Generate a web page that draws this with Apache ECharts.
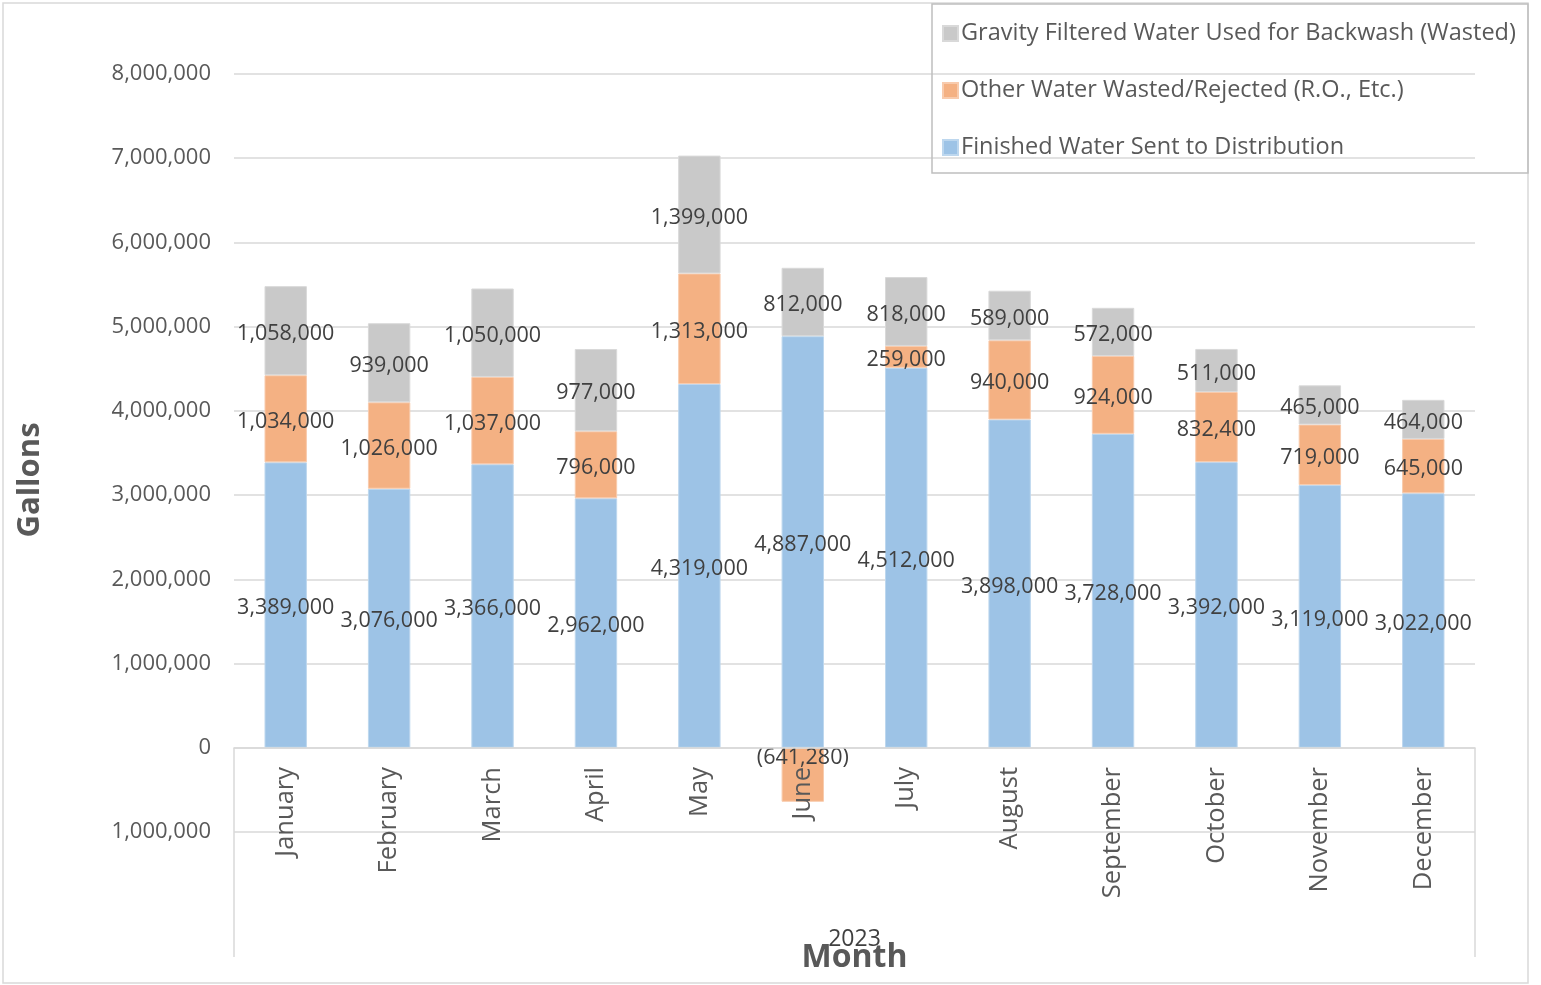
<!DOCTYPE html>
<html>
<head>
<meta charset="utf-8">
<script src="https://cdn.jsdelivr.net/npm/echarts@6/dist/echarts.min.js"></script>
<style>
  html, body { margin: 0; padding: 0; background: #fff; }
  #chart { width: 1541px; height: 985px; }
</style>
</head>
<body>
<div id="chart"></div>
<script>
// Monthly water production, 2023 (gallons)
const months = ['January', 'February', 'March', 'April', 'May', 'June',
                'July', 'August', 'September', 'October', 'November', 'December'];
const finishedWater = [3389000, 3076000, 3366000, 2962000, 4319000, 4887000,
                       4512000, 3898000, 3728000, 3392000, 3119000, 3022000];
const otherWasted = [1034000, 1026000, 1037000, 796000, 1313000, -641280,
                     259000, 940000, 924000, 832400, 719000, 645000];
const backwashWasted = [1058000, 939000, 1050000, 977000, 1399000, 812000,
                        818000, 589000, 572000, 511000, 465000, 464000];
const yearLabel = '2023';
const seriesNames = ['Gravity Filtered Water Used for Backwash (Wasted)',
                     'Other Water Wasted/Rejected (R.O., Etc.)',
                     'Finished Water Sent to Distribution'];

const FONT = '"Open Sans", "Liberation Sans", sans-serif';
const GRID = { left: 234, right: 66, top: 74, bottom: 153 };

const fmt = v => {
  const s = Math.abs(v).toLocaleString('en-US');
  return v < 0 ? '(' + s + ')' : s;
};

const labelStyle = {
  show: true,
  position: 'inside',
  offset: [0, 3],
  color: '#404040',
  fontFamily: FONT,
  fontSize: 21.5,
  formatter: p => fmt(p.value)
};

// Negative values carry their label up against the zero line
const otherWastedData = otherWasted.map(v =>
  v < 0 ? { value: v, label: { position: 'insideTop', distance: -4 } } : v);

const chart = echarts.init(document.getElementById('chart'), null, { renderer: 'canvas' });

const option = {
  animation: false,
  backgroundColor: '#fff',
  textStyle: { fontFamily: FONT },
  grid: Object.assign({ outerBoundsMode: 'none', containLabel: false }, GRID),
  legend: {
    orient: 'vertical',
    left: 942,
    top: 21,
    padding: 0,
    itemGap: 32,
    itemWidth: 15,
    itemHeight: 15,
    icon: 'rect',
    data: seriesNames,
    textStyle: { color: '#595959', fontSize: 23.5, fontFamily: FONT, padding: [0, 0, 0, -2], lineHeight: 25 }
  },
  xAxis: {
    type: 'category',
    data: months,
    z: 5,
    axisLine: { onZero: true, lineStyle: { color: '#d9d9d9', width: 1.5 } },
    axisTick: { show: false },
    axisLabel: { rotate: 90, color: '#595959', fontSize: 25.5, fontFamily: FONT, margin: -65 }
  },
  yAxis: {
    type: 'value',
    min: -1000000,
    max: 8000000,
    interval: 1000000,
    axisLine: { show: false },
    axisTick: { show: false },
    splitLine: { lineStyle: { color: '#d9d9d9', width: 1.5 } },
    axisLabel: {
      color: '#595959', fontSize: 22, fontFamily: FONT, margin: 23, padding: [4, 0, 0, 0],
      formatter: v => Math.abs(v).toLocaleString('en-US')
    }
  },
  series: [
    {
      name: seriesNames[2], type: 'bar', stack: 'total', data: finishedWater,
      barWidth: '41%',
      itemStyle: { color: '#9dc3e6', borderColor: '#bdd7ee', borderWidth: 1 },
      label: labelStyle
    },
    {
      name: seriesNames[1], type: 'bar', stack: 'total', data: otherWastedData,
      itemStyle: { color: '#f4b183', borderColor: '#f8cbad', borderWidth: 1 },
      label: labelStyle
    },
    {
      name: seriesNames[0], type: 'bar', stack: 'total', data: backwashWasted,
      itemStyle: { color: '#c9c9c9', borderColor: '#d9d9d9', borderWidth: 1 },
      label: labelStyle
    }
  ]
};

chart.setOption(option);

// Frame, legend box, titles and the side rules of the category band below zero
const y0 = chart.convertToPixel({ yAxisIndex: 0 }, 0);
const xL = GRID.left, xR = 1541 - GRID.right, yBand = 957;
const line = (x1, y1, x2, y2) => ({
  type: 'line', silent: true, shape: { x1, y1, x2, y2 },
  style: { stroke: '#d9d9d9', lineWidth: 1.5 }
});
chart.setOption({
  graphic: [
    { type: 'rect', silent: true, shape: { x: 3, y: 3, width: 1525, height: 980 },
      style: { fill: null, stroke: '#d9d9d9', lineWidth: 1.5 } },
    { type: 'rect', silent: true, z: 10, shape: { x: 932, y: 4, width: 596, height: 169 },
      style: { fill: null, stroke: '#bfbfbf', lineWidth: 1.5 } },
    line(xL, y0, xL, yBand),
    line(xR, y0, xR, yBand),
    { type: 'text', silent: true, x: 30, y: 480, rotation: Math.PI / 2,
      style: { text: 'Gallons', fill: '#595959', font: 'bold 31px ' + FONT,
               textAlign: 'center', textVerticalAlign: 'middle' } },
    { type: 'text', silent: true, x: (xL + xR) / 2, y: 939,
      style: { text: yearLabel, fill: '#404040', font: '23px ' + FONT,
               textAlign: 'center', textVerticalAlign: 'middle' } },
    { type: 'text', silent: true, x: (xL + xR) / 2, y: 958,
      style: { text: 'Month', fill: '#595959', font: 'bold 32px ' + FONT,
               textAlign: 'center', textVerticalAlign: 'middle' } }
  ]
});
</script>
</body>
</html>
